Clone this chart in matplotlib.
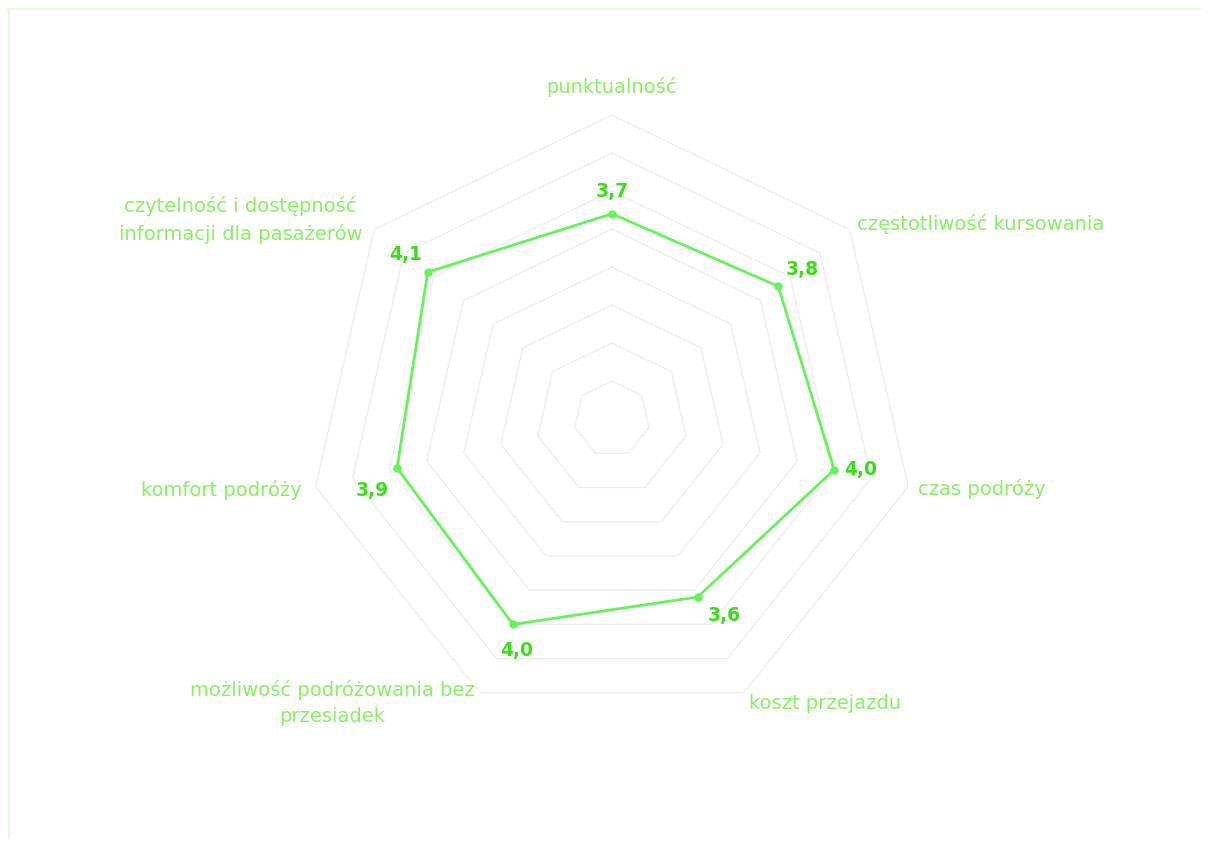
import numpy as np
import matplotlib
matplotlib.use("Agg")
import matplotlib.pyplot as plt
from matplotlib.lines import Line2D

categories = [
    "punktualność",
    "częstotliwość kursowania",
    "czas podróży",
    "koszt przejazdu",
    "możliwość podróżowania bez\nprzesiadek",
    "komfort podróży",
    "czytelność i dostępność\ninformacji dla pasażerów",
]
values = [3.7, 3.8, 4.0, 3.6, 4.0, 3.9, 4.1]
value_labels = ["3,7", "3,8", "4,0", "3,6", "4,0", "3,9", "4,1"]
r_min, r_max, r_step = 1.0, 5.0, 0.5

line_color = "#66f25a"
value_color = "#3ddc1a"
cat_color = "#88f062"
grid_color = "#ededed"

fig = plt.figure(figsize=(12.08, 8.41), dpi=100)
fig.patch.set_facecolor("white")

# light frame (top and left edges)
fig.add_artist(Line2D([8/1208, 1200/1208], [1-9/841, 1-9/841], transform=fig.transFigure,
                      color="#e6fbe6", lw=1.5))
fig.add_artist(Line2D([9/1208, 9/1208], [1-9/841, 1-838/841], transform=fig.transFigure,
                      color="#e6fbe6", lw=1.5))

ax = fig.add_axes([0.2549, 0.1403, 0.5033, 0.723], projection="polar")
ax.set_theta_offset(np.pi / 2)
ax.set_theta_direction(-1)
ax.set_ylim(r_min, r_max)
ax.grid(False)
ax.set_xticks([])
ax.set_yticks([])
ax.spines["polar"].set_visible(False)
ax.set_facecolor("none")

n = len(categories)
theta = np.linspace(0, 2 * np.pi, n, endpoint=False)
theta_closed = np.append(theta, theta[0])

# heptagonal grid rings
for lvl in np.arange(r_min + r_step, r_max + 1e-9, r_step):
    ax.plot(theta_closed, [lvl] * (n + 1), color=grid_color, lw=0.9, zorder=1)

vals_closed = np.append(values, values[0])
ax.plot(theta_closed, vals_closed, color=line_color, lw=2.0, zorder=3)
ax.plot(theta, values, "o", color=line_color, ms=5, zorder=4)

# value labels offsets (points)
offsets = [(0, 16), (17, 12), (19, 0), (19, -13), (3, -19), (-18, -16), (-16, 13)]
for t, v, lab, off in zip(theta, values, value_labels, offsets):
    ax.annotate(lab, (t, v), xytext=off, textcoords="offset points",
                ha="center", va="center", color=value_color, fontsize=13.5,
                fontweight="bold", zorder=5)

# category labels
cat_pos = [
    (5.37, "center", "center"),
    (5.12, "left", "center"),
    (5.13, "left", "center"),
    (5.15, "left", "center"),
    (5.15, "right", "center"),
    (5.18, "right", "center"),
    (5.20, "right", "center"),
]
for t, c, (r, ha, va) in zip(theta, categories, cat_pos):
    ax.text(t, r, c, ha=ha, va=va, color=cat_color, fontsize=14,
            multialignment="center", linespacing=1.45, clip_on=False)

fig.savefig("out.png", dpi=100, facecolor="white")
